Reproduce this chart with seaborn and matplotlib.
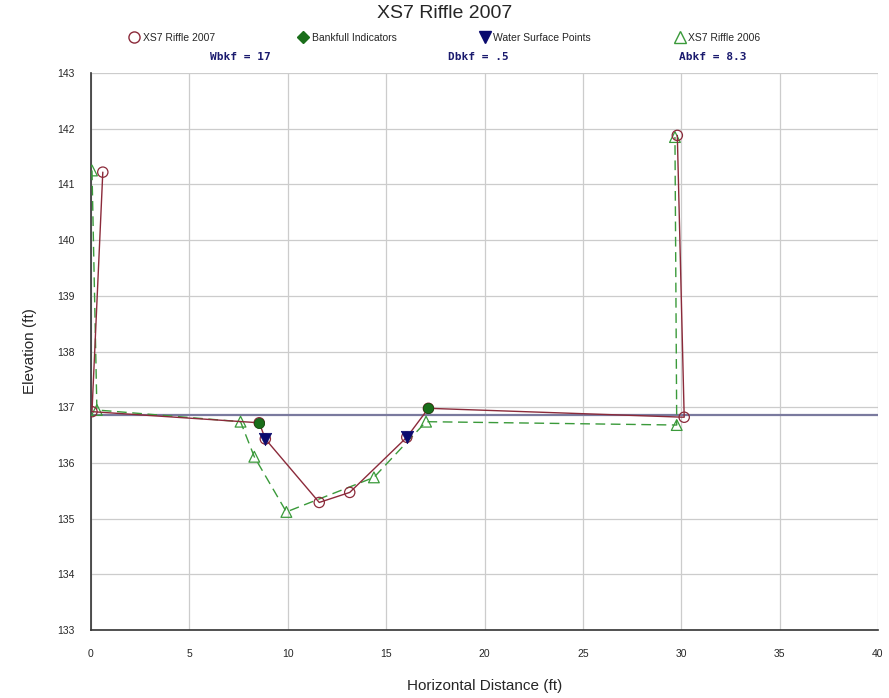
import matplotlib
matplotlib.use("Agg")
import matplotlib.pyplot as plt
from matplotlib.lines import Line2D
import seaborn as sns
import pandas as pd

# ---- data ----
x2007 = [0.6, 0.05, 8.55, 8.86, 11.6, 13.15, 16.05, 17.15, 30.15, 29.8]
y2007 = [141.22, 136.92, 136.72, 136.43, 135.29, 135.47, 136.46, 136.98, 136.82, 141.88]
x2006 = [0.05, 0.3, 7.6, 8.3, 9.93, 14.38, 17.03, 29.77, 29.68]
y2006 = [141.25, 136.95, 136.74, 136.11, 135.12, 135.74, 136.74, 136.68, 141.85]
bkf_x = [8.55, 17.15]
bkf_y = [136.72, 136.98]
ws_x = [8.86, 16.05]
ws_y = [136.43, 136.46]
bankfull_elev = 136.86
title = "XS7 Riffle 2007"
stats = ["Wbkf = 17", "Dbkf = .5", "Abkf = 8.3"]
xticks = [0, 5, 10, 15, 20, 25, 30, 35, 40]
yticks = [133, 134, 135, 136, 137, 138, 139, 140, 141, 142, 143]

df07 = pd.DataFrame({"x": x2007, "y": y2007})
df06 = pd.DataFrame({"x": x2006, "y": y2006})
dfb = pd.DataFrame({"x": bkf_x, "y": bkf_y})
dfw = pd.DataFrame({"x": ws_x, "y": ws_y})

sns.set_style("white")
plt.rcParams['font.family'] = ['Liberation Sans', 'DejaVu Sans']

fig = plt.figure(figsize=(8.89, 6.98), dpi=100)
ax = fig.add_axes([91/889, 1-630/698, (878-91)/889, (630-73)/698])

c07 = "#8b2a3a"
c06 = "#3a9a3a"

ax.axhline(bankfull_elev, color="#7a7a9e", lw=1.6, zorder=2)

sns.lineplot(data=df06, x="x", y="y", sort=False, estimator=None, ax=ax,
             color=c06, lw=1.0, zorder=3)
ax.lines[-1].set_dashes([7, 4])
sns.scatterplot(data=df06, x="x", y="y", ax=ax, marker="^", s=60,
                facecolor="none", edgecolor=c06, linewidth=0.9, zorder=4)

sns.lineplot(data=df07, x="x", y="y", sort=False, estimator=None, ax=ax,
             color=c07, lw=1.0, zorder=5)
sns.scatterplot(data=df07, x="x", y="y", ax=ax, marker="o", s=55,
                facecolor="none", edgecolor=c07, linewidth=0.9, zorder=6)

sns.scatterplot(data=dfb, x="x", y="y", ax=ax, marker="o", s=55,
                color="#1a6e1a", edgecolor="#0d4d0d", linewidth=0.5, zorder=7)
sns.scatterplot(data=dfw, x="x", y="y", ax=ax, marker="v", s=80,
                color="#0a0a6e", edgecolor="#0a0a6e", linewidth=0.5, zorder=7)

ax.set_xlim(0, 40)
ax.set_ylim(133, 143)
ax.set_xticks(xticks)
ax.set_yticks(yticks)
ax.grid(True, color="#cccccc", lw=0.9)
for s in ["top", "right"]:
    ax.spines[s].set_visible(False)
for s in ["left", "bottom"]:
    ax.spines[s].set_color("#333333")
    ax.spines[s].set_linewidth(1.2)
ax.tick_params(direction="in", length=12, width=1, color="#222222",
               labelsize=7.5, pad=12)
ax.tick_params(axis="x", pad=14)
ax.set_xlabel("Horizontal Distance (ft)", fontsize=11, labelpad=14)
ax.set_ylabel("Elevation (ft)", fontsize=11, labelpad=14)

fig.text(0.5, 1-13/698, title, ha="center", va="center", fontsize=14)

handles = [
    Line2D([], [], ls="none", marker="o", mfc="none", mec=c07, ms=8),
    Line2D([], [], ls="none", marker="D", color="#1a6e1a", ms=6),
    Line2D([], [], ls="none", marker="v", color="#0a0a6e", ms=8),
    Line2D([], [], ls="none", marker="^", mfc="none", mec=c06, ms=9),
]
labels = ["XS7 Riffle 2007", "Bankfull Indicators", "Water Surface Points", "XS7 Riffle 2006"]
fig.legend(handles, labels, loc="center", bbox_to_anchor=(0.5, 1-38/698), ncol=4,
           frameon=False, fontsize=7.5, handletextpad=0.3, columnspacing=8.0,
           handlelength=1.0)

for xp, s in zip([240, 478, 713], stats):
    fig.text(xp/889, 1-57/698, s, ha="center", va="center", fontsize=8,
             family="DejaVu Sans Mono", weight="bold", color="#1a1a6e")

fig.savefig("out.png", dpi=100)
